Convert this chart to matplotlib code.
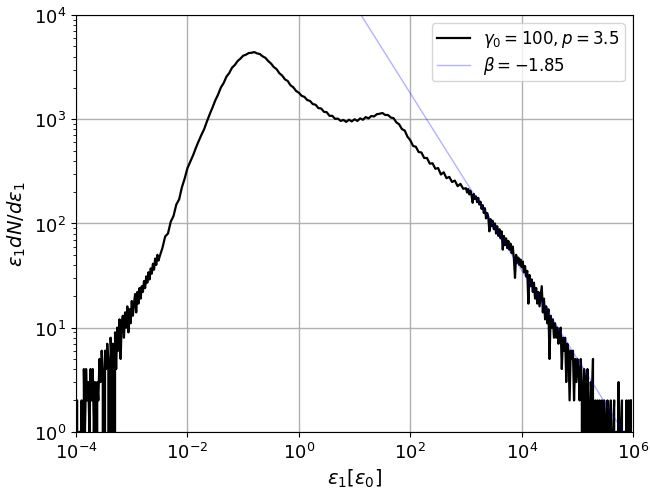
import numpy as np
import matplotlib
matplotlib.use("Agg")
import matplotlib.pyplot as plt
from matplotlib.ticker import NullLocator

low_start, low_step = -4.0, 0.02
low_tail = [
    2, 2, 0, 1, 0, 2, 0, 4, 1, 4, 2, 3, 1, 4, 2, 4, 1, 3, 0, 3,
    2, 5, 3, 6, 4, 0, 6, 4, 7, 5, 0, 8, 5, 7, 0, 9, 4, 10, 6, 12,
    5, 11, 13, 8, 14, 10, 16, 9, 15, 11, 18, 13, 17, 21, 14, 22, 17, 24, 19, 25,
    22, 28, 24, 31, 27, 34, 29, 37, 33, 41, 36, 46, 40, 50, 44, 48,
]

mid_start, mid_step = -2.45, 0.05
middle = [
    58, 75, 80, 104, 118, 152, 170, 222, 270,
    340, 392, 450, 530, 615, 708, 805, 955, 1120, 1300, 1520, 1730, 2020, 2230, 2570, 2780, 3130, 3320, 3620, 3820,
    4080, 4170, 4330, 4350, 4420, 4290, 4230, 4020, 3890, 3620, 3430, 3170, 3030, 2770, 2630, 2420, 2330, 2120, 2030, 1870,
    1800, 1680, 1640, 1530, 1500, 1400, 1380, 1280, 1270, 1180, 1170, 1080, 1080, 1010, 1015, 965, 985, 945, 990, 955,
    1000, 965, 1020, 990, 1050, 1020, 1075, 1065, 1120, 1130, 1150, 1100, 1100, 1040, 1025, 935, 895, 805, 780, 680,
    630, 555, 545, 485, 480, 425, 425, 375, 378, 335, 340, 295, 310, 272, 280, 250, 258, 228, 240, 215,
]

high_start, high_step = 3.0, 0.02
high_tail = [
    218, 198, 214, 190, 206, 185, 158, 192, 172, 182, 160, 176, 152, 162, 138, 150, 126, 140, 112, 126,
    116, 84, 110, 94, 106, 88, 100, 80, 94, 76, 88, 72, 84, 56, 76, 62, 72, 58, 68, 56,
    64, 52, 60, 46, 30, 50, 42, 47, 40, 45, 38, 43, 34, 39, 31, 35, 17, 32, 25, 29,
    22, 27, 19, 24, 17, 22, 16, 20, 25, 14, 19, 12, 16, 11, 15, 5, 13, 10, 12, 8,
    11, 8, 10, 7, 9, 10, 4, 8, 6, 8, 3, 7, 6, 2, 6, 5, 6, 2, 5, 3,
    5, 4, 2, 5, 3, 0, 4, 3, 0, 4, 2, 0, 3, 2, 5, 0, 2, 0, 2, 1,
    2, 0, 2, 0, 2, 1, 0, 2, 0, 1, 2, 0, 1, 2, 0, 1, 0, 3, 0, 1,
    2, 0, 1, 0, 2, 0, 2, 0, 2,
]

# power-law guide: eps dN/deps ~ eps^(beta+1)
beta = -1.85
guide_norm = 10 ** 4.95


def piece(start, step, vals):
    return 10 ** (start + step * np.arange(len(vals))), np.array(vals, dtype=float)


pieces = [piece(low_start, low_step, low_tail),
          piece(mid_start, mid_step, middle),
          piece(high_start, high_step, high_tail)]
eps = np.concatenate([p[0] for p in pieces])
y = np.concatenate([p[1] for p in pieces])

eps_line = np.logspace(-4, 6, 200)
guide = guide_norm * eps_line ** (beta + 1)

fig = plt.figure(figsize=(6.5, 4.89), dpi=100)
ax = fig.add_axes([0.117, 0.115, 0.857, 0.852])

ax.plot(eps, y, color='black', lw=1.6, label=r'$\gamma_0=100, p=3.5$')
ax.plot(eps_line, guide, color='blue', alpha=0.3, lw=1, label=r'$\beta=-1.85$')
ax.set_xscale('log')
ax.set_yscale('log')
ax.set_xlim(1e-4, 1e6)
ax.set_ylim(1, 1e4)
ax.set_xticks([1e-4, 1e-2, 1e0, 1e2, 1e4, 1e6])
ax.xaxis.set_minor_locator(NullLocator())
ax.grid(True, which='major', color='#b0b0b0', lw=1)
ax.tick_params(labelsize=13)
ax.set_xlabel(r'$\varepsilon_1[\varepsilon_0]$', fontsize=14)
ax.set_ylabel(r'$\varepsilon_1 dN/d\varepsilon_1$', fontsize=14)
ax.legend(loc='upper right', fontsize=12, labelspacing=0.3, borderpad=0.3)

fig.savefig('out.png', dpi=100)
